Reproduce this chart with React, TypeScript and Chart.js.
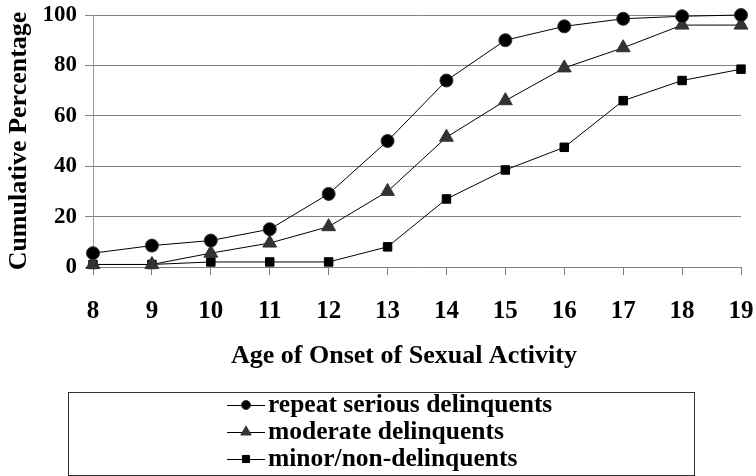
import React, { useEffect, useRef } from 'react';
import { Chart, registerables } from 'chart.js';
import { drawPoint } from 'chart.js/helpers';

Chart.register(...registerables);

const ages = ['8', '9', '10', '11', '12', '13', '14', '15', '16', '17', '18', '19'];
const repeatSerious = [5.5, 8.5, 10.5, 15, 29, 50, 74, 90, 95.5, 98.5, 99.5, 100];
const moderate = [1, 1, 5.5, 9.5, 16, 30, 51.5, 66, 79, 87, 96, 96];
const minorNon = [1, 1, 2, 2, 2, 8, 27, 38.5, 47.5, 66, 74, 78.5];
const seriesLabels = ['repeat serious delinquents', 'moderate delinquents', 'minor/non-delinquents'];
const yTitle = 'Cumulative Percentage';
const xTitle = 'Age of Onset of Sexual Activity';

const FONT = '"Liberation Serif", "Times New Roman", serif';
const legendRadius = [4.5, 6, 5];

const boxLegend = {
  id: 'boxLegend',
  afterDraw(chart: any) {
    const ctx = chart.ctx as CanvasRenderingContext2D;
    ctx.save();
    ctx.strokeStyle = '#333';
    ctx.lineWidth = 1;
    ctx.strokeRect(68.5, 392.5, 626, 83);
    chart.data.datasets.forEach((ds: any, i: number) => {
      const y = 405 + i * 27;
      ctx.beginPath();
      ctx.moveTo(227, y + 0.5);
      ctx.lineTo(265, y + 0.5);
      ctx.strokeStyle = '#000';
      ctx.lineWidth = 1;
      ctx.stroke();
      ctx.fillStyle = ds.pointBackgroundColor;
      ctx.strokeStyle = ds.pointBorderColor;
      ctx.lineWidth = 1;
      drawPoint(ctx, { pointStyle: ds.pointStyle, rotation: 0, borderWidth: 1, radius: legendRadius[i] } as any, 246, y);
      ctx.fillStyle = '#000';
      ctx.font = `bold 25.5px ${FONT}`;
      ctx.textBaseline = 'middle';
      ctx.textAlign = 'left';
      ctx.fillText(ds.label, 268, y);
    });
    ctx.restore();
  },
};

export default function App() {
  const ref = useRef<HTMLCanvasElement>(null);
  useEffect(() => {
    const chart = new Chart(ref.current as HTMLCanvasElement, {
      type: 'line',
      data: {
        labels: ages,
        datasets: [
          {
            label: seriesLabels[0],
            data: repeatSerious,
            borderColor: '#000',
            borderWidth: 1,
            pointStyle: 'circle',
            pointRadius: 6.5,
            pointBackgroundColor: '#000',
            pointBorderColor: '#333',
            pointBorderWidth: 1,
            tension: 0,
            clip: false,
          },
          {
            label: seriesLabels[1],
            data: moderate,
            borderColor: '#000',
            borderWidth: 1,
            pointStyle: 'triangle',
            pointRadius: 8,
            pointBackgroundColor: '#333',
            pointBorderColor: '#333',
            pointBorderWidth: 1,
            tension: 0,
            clip: false,
          },
          {
            label: seriesLabels[2],
            data: minorNon,
            borderColor: '#000',
            borderWidth: 1,
            pointStyle: 'rect',
            pointRadius: 6,
            pointBackgroundColor: '#000',
            pointBorderColor: '#000',
            pointBorderWidth: 1,
            tension: 0,
            clip: false,
          },
        ],
      },
      options: {
        responsive: false,
        animation: false,
        layout: { padding: { top: 15, right: 15, bottom: 101, left: 0 } },
        plugins: { legend: { display: false }, tooltip: { enabled: false } },
        scales: {
          x: {
            type: 'category',
            offset: false,
            afterFit: (s: any) => { s.height = 108; s.paddingLeft = 0; s.paddingRight = 0; },
            grid: { drawOnChartArea: false, drawTicks: true, tickLength: 8, color: '#808080' },
            border: { display: true, color: '#808080', width: 1 },
            ticks: { color: '#000', font: { family: FONT, size: 25, weight: 'bold' }, padding: 22, maxRotation: 0, autoSkip: false },
            title: { display: true, text: xTitle + '    ', color: '#000', font: { family: FONT, size: 26, weight: 'bold' }, padding: { top: 0, bottom: 3 } },
          },
          y: {
            min: 0,
            max: 100,
            afterFit: (s: any) => { s.width = 93; s.paddingTop = 0; s.paddingBottom = 0; },
            grid: { color: '#808080', tickLength: 8, drawTicks: true },
            border: { display: true, color: '#9a9a9a', width: 1 },
            ticks: { stepSize: 20, color: '#000', font: { family: FONT, size: 23, weight: 'bold' }, padding: 8 },
            title: { display: true, text: yTitle, color: '#000', font: { family: FONT, size: 26, weight: 'bold' }, padding: { top: 4, bottom: 0 } },
          },
        },
      },
      plugins: [boxLegend],
    } as any);
    return () => chart.destroy();
  }, []);
  return (
    <div style={{ position: 'fixed', left: 0, top: 0, width: 756, height: 476, background: '#fff' }}>
      <canvas ref={ref} width={756} height={476} />
    </div>
  );
}
